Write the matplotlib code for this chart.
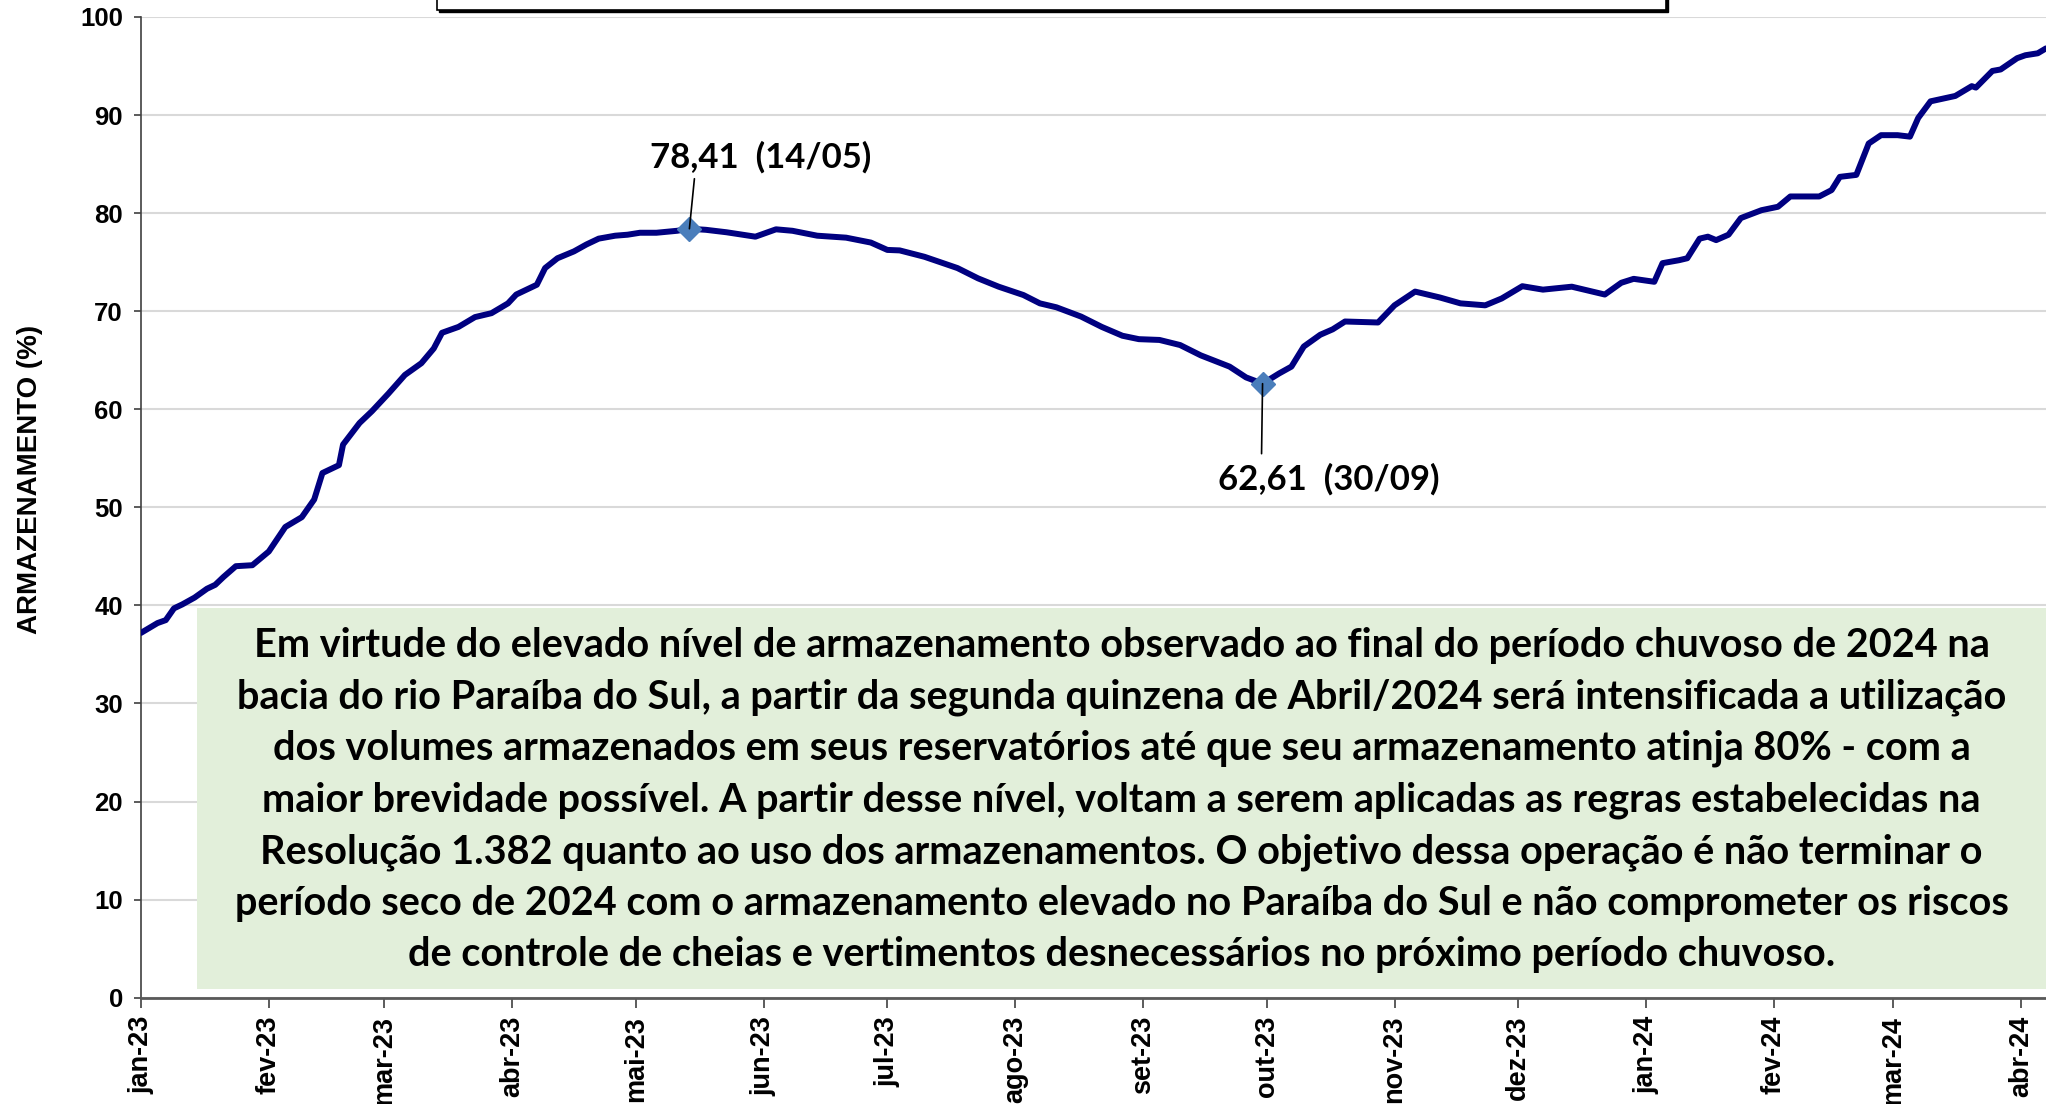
import pandas as pd
import matplotlib
matplotlib.use("Agg")
import matplotlib.pyplot as plt
from matplotlib.patches import Rectangle

# daily storage (%), Paraíba do Sul equivalent reservoir
dates = [
    "2023-01-01", "2023-01-05", "2023-01-07", "2023-01-09", "2023-01-11", "2023-01-14",
    "2023-01-17", "2023-01-19", "2023-01-21", "2023-01-24", "2023-01-28", "2023-02-01",
    "2023-02-05", "2023-02-09", "2023-02-12", "2023-02-14", "2023-02-18", "2023-02-19",
    "2023-02-23", "2023-02-26", "2023-03-02", "2023-03-06", "2023-03-10", "2023-03-13",
    "2023-03-15", "2023-03-19", "2023-03-23", "2023-03-27", "2023-03-31", "2023-04-02",
    "2023-04-07", "2023-04-09", "2023-04-12", "2023-04-16", "2023-04-19", "2023-04-22",
    "2023-04-26", "2023-04-29", "2023-05-02", "2023-05-06", "2023-05-11", "2023-05-14",
    "2023-05-18", "2023-05-23", "2023-05-30", "2023-06-04", "2023-06-08", "2023-06-14",
    "2023-06-21", "2023-06-27", "2023-07-01", "2023-07-04", "2023-07-10", "2023-07-18",
    "2023-07-23", "2023-07-28", "2023-08-03", "2023-08-07", "2023-08-11", "2023-08-17",
    "2023-08-22", "2023-08-27", "2023-08-31", "2023-09-05", "2023-09-10", "2023-09-15",
    "2023-09-22", "2023-09-26", "2023-09-30", "2023-10-04", "2023-10-07", "2023-10-10",
    "2023-10-14", "2023-10-17", "2023-10-20", "2023-10-28", "2023-11-01", "2023-11-06",
    "2023-11-12", "2023-11-17", "2023-11-23", "2023-11-27", "2023-12-02", "2023-12-07",
    "2023-12-14", "2023-12-22", "2023-12-26", "2023-12-29", "2024-01-03", "2024-01-05",
    "2024-01-09", "2024-01-11", "2024-01-14", "2024-01-16", "2024-01-18", "2024-01-21",
    "2024-01-24", "2024-01-29", "2024-02-02", "2024-02-05", "2024-02-12", "2024-02-15",
    "2024-02-17", "2024-02-21", "2024-02-24", "2024-02-27", "2024-03-02", "2024-03-05",
    "2024-03-07", "2024-03-10", "2024-03-16", "2024-03-20", "2024-03-21", "2024-03-25",
    "2024-03-27", "2024-03-31", "2024-04-02", "2024-04-05", "2024-04-07",
]
storage = [
    37.2, 38.2, 38.5, 39.7, 40.1, 40.8,
    41.7, 42.1, 42.9, 44.0, 44.1, 45.5,
    48.0, 49.0, 50.8, 53.5, 54.3, 56.4,
    58.6, 59.8, 61.6, 63.5, 64.7, 66.2,
    67.8, 68.4, 69.4, 69.8, 70.8, 71.7,
    72.7, 74.4, 75.4, 76.1, 76.8, 77.4,
    77.7, 77.8, 78.0, 78.0, 78.2, 78.41,
    78.3, 78.05, 77.6, 78.35, 78.2, 77.7,
    77.5, 77.0, 76.25, 76.2, 75.55, 74.4,
    73.35, 72.5, 71.65, 70.8, 70.4, 69.45,
    68.4, 67.5, 67.15, 67.07, 66.55, 65.5,
    64.35, 63.25, 62.61, 63.65, 64.35, 66.4,
    67.6, 68.15, 68.95, 68.85, 70.6, 72.0,
    71.4, 70.8, 70.6, 71.3, 72.55, 72.2,
    72.5, 71.7, 72.9, 73.3, 73.0, 74.9,
    75.2, 75.4, 77.4, 77.6, 77.25, 77.8,
    79.5, 80.3, 80.65, 81.7, 81.7, 82.35,
    83.7, 83.9, 87.1, 87.95, 87.95, 87.8,
    89.7, 91.4, 91.95, 92.95, 92.8, 94.5,
    94.65, 95.8, 96.1, 96.3, 96.8,
]

peak_date, peak_value = "2023-05-14", 78.41
trough_date, trough_value = "2023-09-30", 62.61
peak_label = "78,41  (14/05)"
trough_label = "62,61  (30/09)"

month_names = ["jan", "fev", "mar", "abr", "mai", "jun",
               "jul", "ago", "set", "out", "nov", "dez"]
month_ticks = pd.date_range("2023-01-01", "2024-04-01", freq="MS")
tick_labels = [f"{month_names[d.month - 1]}-{d.strftime('%y')}" for d in month_ticks]

note = (
    "Em virtude do elevado nível de armazenamento observado ao final do período chuvoso de 2024 na\n"
    "bacia do rio Paraíba do Sul, a partir da segunda quinzena de Abril/2024 será intensificada a utilização\n"
    "dos volumes armazenados em seus reservatórios até que seu armazenamento atinja 80% - com a\n"
    "maior brevidade possível. A partir desse nível, voltam a serem aplicadas as regras estabelecidas na\n"
    "Resolução 1.382 quanto ao uso dos armazenamentos. O objetivo dessa operação é não terminar o\n"
    "período seco de 2024 com o armazenamento elevado no Paraíba do Sul e não comprometer os riscos\n"
    "de controle de cheias e vertimentos desnecessários no próximo período chuvoso."
)

W, H = 2046, 1104
fig = plt.figure(figsize=(W / 100, H / 100), dpi=100)
ax = fig.add_axes([141 / W, 106.3 / H, (W - 141) / W, (997.7 - 17) / H])

x = pd.to_datetime(dates)
ax.plot(x, storage, color="#000080", lw=4.3, solid_joinstyle="round",
        solid_capstyle="round", zorder=3)
ax.plot(pd.to_datetime([peak_date, trough_date]), [peak_value, trough_value],
        ls="none", marker="D", ms=12, color="#4A7EBB", zorder=4)

ax.set_xlim(pd.Timestamp("2023-01-01"), pd.Timestamp("2024-04-07"))
ax.set_ylim(0, 100)
ax.set_yticks(range(0, 101, 10))
ax.set_xticks(month_ticks)
ax.set_xticklabels(tick_labels, rotation=90, fontsize=19.5, fontweight="bold",
                   family="Liberation Sans")
for lab in ax.get_yticklabels():
    lab.set_fontsize(18.5)
    lab.set_fontweight("bold")
    lab.set_family("Liberation Sans")

ax.grid(axis="y", color="#D9D9D9", lw=1.5)
ax.set_axisbelow(True)
ax.spines["top"].set_visible(False)
ax.spines["right"].set_visible(False)
ax.spines["left"].set_color("#404040")
ax.spines["left"].set_linewidth(1.2)
ax.spines["bottom"].set_color("#595959")
ax.spines["bottom"].set_linewidth(2)
ax.tick_params(axis="y", length=5, width=1.2, color="#404040", pad=8)
ax.tick_params(axis="x", length=7, width=1.2, color="#404040", pad=6)

fig.text(30 / W, 1 - 479 / H, "ARMAZENAMENTO (%)", rotation=90, ha="center",
         va="center", fontsize=20, fontweight="bold", family="Liberation Sans")

# point labels
for d, v, lab, line_off, text_off in [
    (peak_date, peak_value, peak_label, (5, 50), (-39, 61)),
    (trough_date, trough_value, trough_label, (-1, -70), (-45, -106)),
]:
    pt = (pd.Timestamp(d), v)
    ax.annotate("", xy=pt, xytext=line_off, textcoords="offset pixels",
                arrowprops=dict(arrowstyle="-", color="black", lw=1.2,
                                shrinkA=0, shrinkB=0), zorder=5)
    ax.annotate(lab, xy=pt, xytext=text_off, textcoords="offset pixels",
                ha="left", va="baseline", fontsize=25, fontweight="bold",
                family="Lato", zorder=5)

# title box cut at the top edge
fig.patches.append(Rectangle(((437 + 2) / W, 1 - (10 + 2) / H), (1666 - 437) / W, 0.05,
                             transform=fig.transFigure, fc="black", ec="black",
                             lw=1, zorder=5))
fig.patches.append(Rectangle((437 / W, 1 - 10 / H), (1666 - 437) / W, 0.05,
                             transform=fig.transFigure, fc="white", ec="black",
                             lw=1.2, zorder=5))

# green note box
fig.patches.append(Rectangle((197 / W, 1 - 989 / H), (W - 197) / W + 0.01, (989 - 608) / H,
                             transform=fig.transFigure, fc="#E2EFDA", ec="none", zorder=5))
fig.text(1121.5 / W, 1 - 800 / H, note, ha="center", va="center", fontsize=28.5,
         fontweight="bold", family="Lato", linespacing=1.47, zorder=6)

fig.savefig("out.png", dpi=100)
